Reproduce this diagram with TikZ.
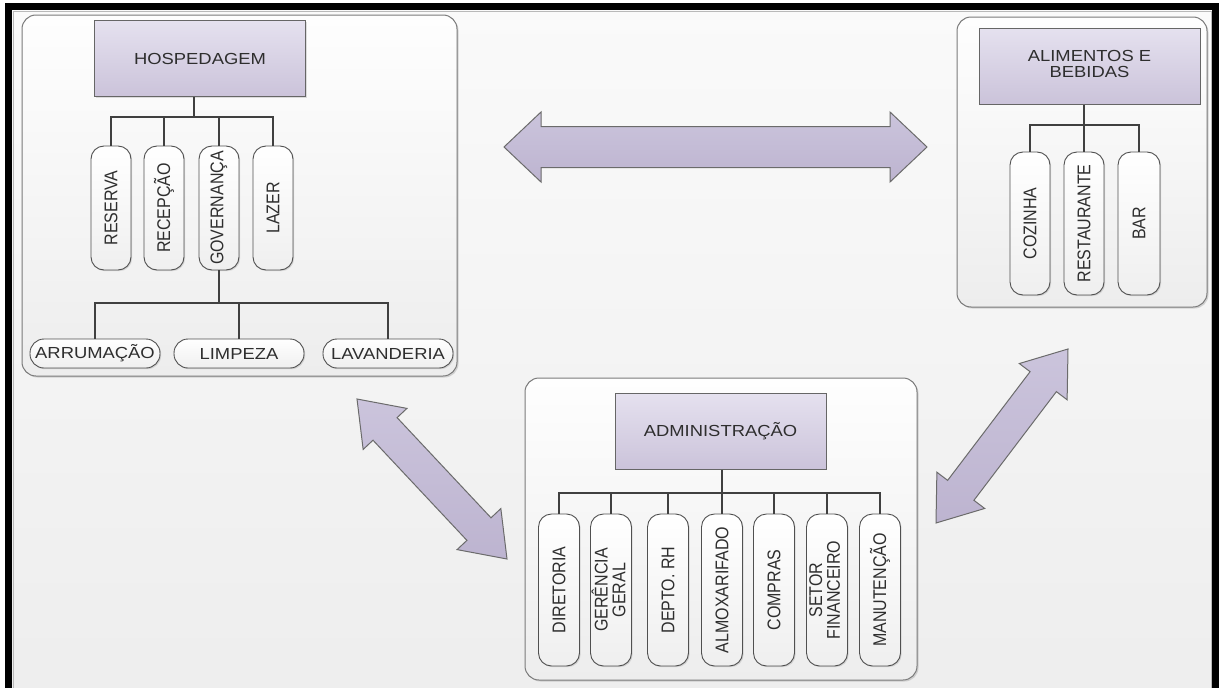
\documentclass[tikz,border=0pt]{standalone}
\usepackage{graphicx}
\usepackage{fontspec}
\setmainfont{Liberation Sans}
\usetikzlibrary{calc,shadows}

\definecolor{bgtop}{HTML}{FAFAFA}
\definecolor{bgbot}{HTML}{EDEDED}
\definecolor{grptop}{HTML}{FEFEFE}
\definecolor{grpbot}{HTML}{EDEDED}
\definecolor{grpline}{HTML}{7A7A7A}
\definecolor{lavtop}{HTML}{E5E1EF}
\definecolor{lavbot}{HTML}{CBC3DA}
\definecolor{boxline}{HTML}{666666}
\definecolor{arrtop}{HTML}{CBC4DC}
\definecolor{arrbot}{HTML}{BDB4D0}
\definecolor{arrline}{HTML}{6B6B6B}
\definecolor{pillbot}{HTML}{EFEFEF}
\definecolor{pillline}{HTML}{505050}
\definecolor{connline}{HTML}{404040}
\definecolor{txt}{HTML}{2E2E2E}

% text is set slightly wider than its natural shape
\newcommand\hx[1]{\scalebox{1.15}[1]{#1}}
\newcommand\vx[1]{\scalebox{1.15}[1]{\rotatebox{90}{#1}}}
\newcommand\vxx[2]{\scalebox{1.15}[1]{\rotatebox{90}{\fontsize{16}{14.5}\selectfont\begin{tabular}{@{}c@{}}#1\\#2\end{tabular}}}}

% double-headed block arrow between two named tips
\newcommand\dblarrow[5]{%
  \coordinate (ah) at ($(#1)!#3!(#2)$);
  \coordinate (bh) at ($(#2)!#3!(#1)$);
  \path[blockarrow] (#1)
    -- ($(ah)!#4!90:(#2)$) -- ($(ah)!#5!90:(#2)$)
    -- ($(bh)!#5!-90:(#1)$) -- ($(bh)!#4!-90:(#1)$)
    -- (#2)
    -- ($(bh)!#4!90:(#1)$) -- ($(bh)!#5!90:(#1)$)
    -- ($(ah)!#5!-90:(#2)$) -- ($(ah)!#4!-90:(#2)$)
    -- cycle;}

\begin{document}
\begin{tikzpicture}[x=1pt,y=-1pt,
  every node/.style={font=\fontsize{16}{15}\selectfont, text=txt},
  group/.style={draw=grpline, line width=1pt, rounded corners=14pt,
    top color=grptop, bottom color=grpbot,
    drop shadow={shadow xshift=1.5pt, shadow yshift=-1.5pt, opacity=0.3}},
  headbox/.style={draw=boxline, line width=1pt, top color=lavtop, bottom color=lavbot,
    minimum width=211, minimum height=76, inner sep=0pt,
    drop shadow={shadow xshift=1.2pt, shadow yshift=-1.2pt, opacity=0.25}},
  vpill/.style={draw=pillline, line width=0.9pt, rounded corners=13pt,
    top color=white, bottom color=pillbot, minimum width=40, inner sep=0pt,
    drop shadow={shadow xshift=1.2pt, shadow yshift=-1.2pt, opacity=0.25}},
  hpill/.style={draw=pillline, line width=0.9pt, rounded corners=14pt,
    top color=white, bottom color=pillbot, minimum width=130, minimum height=29, inner sep=0pt,
    drop shadow={shadow xshift=1.2pt, shadow yshift=-1.2pt, opacity=0.25}},
  conn/.style={draw=connline, line width=1.1pt},
  blockarrow/.style={draw=arrline, line width=1pt, top color=arrtop, bottom color=arrbot, line join=miter}
]
\useasboundingbox (0,0) rectangle (1221,688);
\clip (0,0) rectangle (1221,688);
\fill[white] (0,0) rectangle (1221,688);

% page frame
\path[top color=bgtop, bottom color=bgbot] (8.5,6.5) rectangle (1215.5,720);
\draw[gray!55, line width=0.8pt] (13,11) rectangle (1211,720);
\draw[black, line width=7pt] (8.5,6.5) rectangle (1215.5,720);

% department panels
\node[group, minimum width=435, minimum height=361] (ghosp) at (239.5,195.5) {};
\node[group, minimum width=250, minimum height=290] (galim) at (1082,162) {};
\node[group, minimum width=392, minimum height=302] (gadm) at (721,529) {};

% links between the departments
\coordinate (h1) at (504,147);  \coordinate (h2) at (927,147);
\coordinate (l1) at (357,399);  \coordinate (l2) at (507,559);
\coordinate (r1) at (1068,349); \coordinate (r2) at (936,523);
\dblarrow{h1}{h2}{37pt}{35pt}{20.5pt}
\dblarrow{l1}{l2}{41pt}{30pt}{16.5pt}
\dblarrow{r1}{r2}{41pt}{30pt}{16.5pt}

% HOSPEDAGEM
\node[headbox] (hosp) at (200,58.5) {\hx{HOSPEDAGEM}};
\node[vpill, minimum height=124] (res) at (111,208) {\vx{RESERVA}};
\node[vpill, minimum height=124] (rec) at (164,208) {\vx{RECEPÇÃO}};
\node[vpill, minimum height=124] (gov) at (219,208) {\vx{GOVERNANÇA}};
\node[vpill, minimum height=124] (laz) at (273,208) {\vx{LAZER}};
\node[hpill] (arr) at (95,353.5) {\hx{ARRUMAÇÃO}};
\node[hpill] (lim) at (239,353.5) {\hx{LIMPEZA}};
\node[hpill] (lav) at (388,353.5) {\hx{LAVANDERIA}};

\coordinate (hb) at (194,117);
\draw[conn] (hosp.south -| hb) -- (hb);
\draw[conn] (res.north) |- (laz.north |- hb) -- (laz.north);
\draw[conn] (rec.north) -- (rec.north |- hb);
\draw[conn] (gov.north) -- (gov.north |- hb);
\coordinate (gb) at (0,303);
\draw[conn] (gov.south) -- (gov.south |- gb);
\draw[conn] (arr.north) |- (lav.north |- gb) -- (lav.north);
\draw[conn] (lim.north) -- (lim.north |- gb);

% ALIMENTOS E BEBIDAS
\node[headbox, minimum width=221] (alim) at (1089.5,66)
  {\hx{\begin{tabular}{@{}c@{}}ALIMENTOS E\\BEBIDAS\end{tabular}}};
\node[vpill, minimum height=143] (coz) at (1030,223.5) {\vx{COZINHA}};
\node[vpill, minimum height=143] (rest) at (1084,223.5) {\vx{RESTAURANTE}};
\node[vpill, minimum height=143, minimum width=42] (bar) at (1139,223.5) {\vx{BAR}};

\coordinate (ab) at (1084,125);
\draw[conn] (alim.south -| ab) -- (rest.north);
\draw[conn] (coz.north) |- (bar.north |- ab) -- (bar.north);

% ADMINISTRAÇÃO
\node[headbox] (adm) at (720.5,431) {\hx{ADMINISTRAÇÃO}};
\node[vpill, minimum height=152, minimum width=41] (dir) at (559,590) {\vx{DIRETORIA}};
\node[vpill, minimum height=152, minimum width=41] (ger) at (611,590) {\vxx{GERÊNCIA}{GERAL}};
\node[vpill, minimum height=152, minimum width=41] (dep) at (668,590) {\vx{DEPTO. RH}};
\node[vpill, minimum height=152, minimum width=41] (alm) at (722,590) {\vx{ALMOXARIFADO}};
\node[vpill, minimum height=152, minimum width=41] (com) at (774,590) {\vx{COMPRAS}};
\node[vpill, minimum height=152, minimum width=41] (set) at (827,590) {\vxx{SETOR}{FINANCEIRO}};
\node[vpill, minimum height=152, minimum width=41] (man) at (880,590) {\vx{MANUTENÇÃO}};

\coordinate (db) at (722,493);
\draw[conn] (adm.south -| db) -- (alm.north);
\draw[conn] (dir.north) |- (man.north |- db) -- (man.north);
\foreach \n in {ger,dep,com,set}
  \draw[conn] (\n.north) -- (\n.north |- db);
\end{tikzpicture}
\end{document}
